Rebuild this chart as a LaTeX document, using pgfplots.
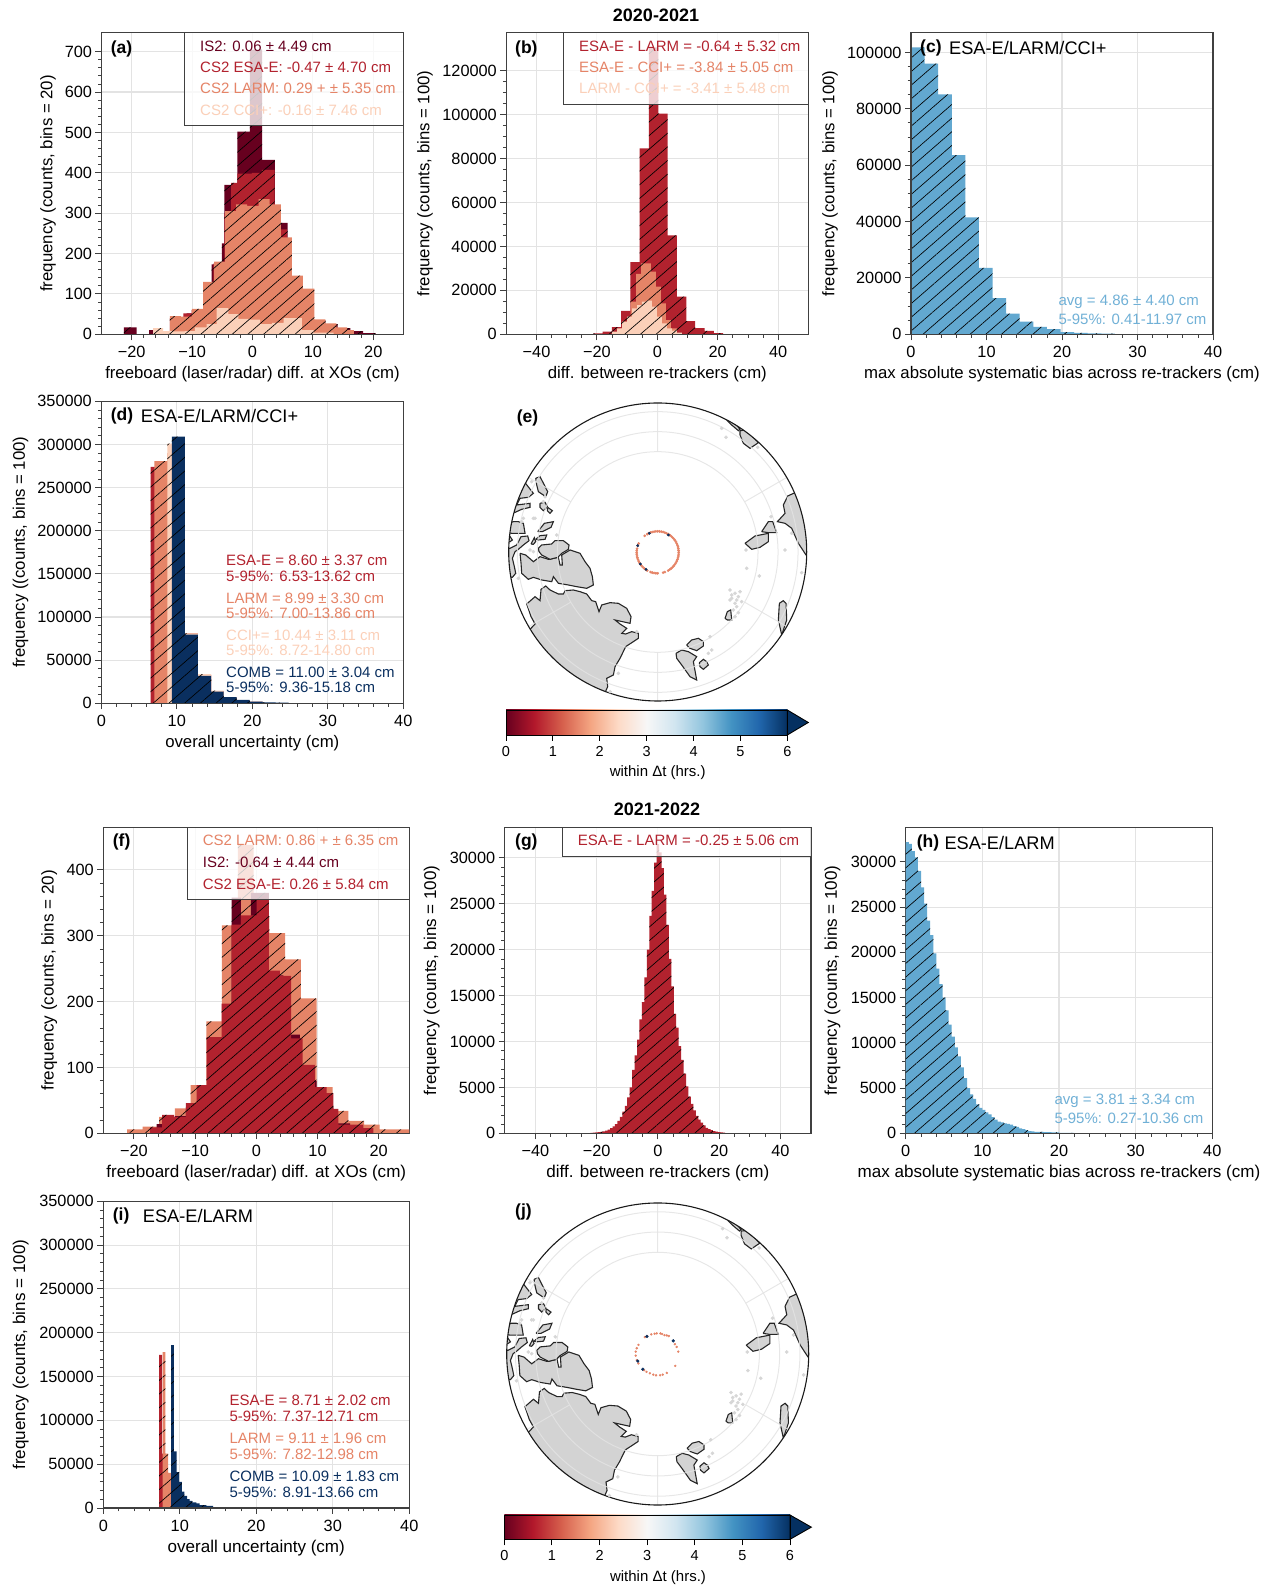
\documentclass[border=0pt]{standalone}
\usepackage{fontspec}
\setmainfont{Liberation Sans}
\usepackage{pgfplots}
\pgfplotsset{compat=1.18}
\usetikzlibrary{patterns.meta}
\definecolor{cIS}{HTML}{67001F}
\definecolor{cES}{HTML}{B2222E}
\definecolor{cLA}{HTML}{E58467}
\definecolor{cCC}{HTML}{FBD0B9}
\definecolor{cCO}{HTML}{0A2F5F}
\definecolor{cBL}{HTML}{62A8D0}
\definecolor{cTB}{HTML}{70B0D6}
\definecolor{frame}{HTML}{404040}
\definecolor{gridc}{HTML}{E3E3E3}
\definecolor{landc}{HTML}{D3D3D3}
\definecolor{dotc}{HTML}{D6D6D6}
\definecolor{r0}{HTML}{67001F}\definecolor{r1}{HTML}{B2182B}\definecolor{r2}{HTML}{D6604D}\definecolor{r3}{HTML}{F4A582}
\definecolor{r4}{HTML}{FDDBC7}\definecolor{r5}{HTML}{F7F7F7}\definecolor{r6}{HTML}{D1E5F0}\definecolor{r7}{HTML}{92C5DE}
\definecolor{r8}{HTML}{4393C3}\definecolor{r9}{HTML}{2166AC}\definecolor{r10}{HTML}{053061}
\pgfdeclarehorizontalshading{rdbu}{100bp}{color(0bp)=(r0);color(25bp)=(r0);color(30bp)=(r1);color(35bp)=(r2);color(40bp)=(r3);color(45bp)=(r4);color(50bp)=(r5);color(55bp)=(r6);color(60bp)=(r7);color(65bp)=(r8);color(70bp)=(r9);color(75bp)=(r10);color(100bp)=(r10)}
\newcommand{\fs}[1]{\fontsize{#1}{#1}\selectfont}
\newcommand{\hist}[2]{\addplot[const plot mark left,draw=none,fill=#1,postaction={pattern={Lines[angle=41,distance=10.3pt,line width=.65pt]},pattern color=black}] coordinates {#2} \closedcycle;}
\newcommand{\fr}{\draw[frame,line width=1.1pt] (rel axis cs:0,0) rectangle (rel axis cs:1,1);}
\pgfplotsset{
 pan/.style={scale only axis,axis on top=false,grid=major,
  grid style={gridc,line width=1.1pt},
  tick align=outside,xtick pos=bottom,ytick pos=left,
  major tick length=6pt,minor tick length=3.5pt,
  tick style={frame,line width=.9pt},
  minor tick style={frame,line width=.8pt},
  axis line style={frame,line width=1.1pt},
  tick label style={font=\fs{16.3}},
  xticklabel style={yshift=-2.5pt},
  label style={font=\fs{16.75}},
  scaled ticks=false,
  minor x tick num=4,minor y tick num=4,
  xlabel style={at={(axis description cs:0.5,-0.131)},anchor=center},
 },
 low/.style={label style={font=\fs{17.05}}},
 land/.style={draw=black!85,fill=landc,line width=1.1pt,mark=none,forget plot},
 mapax/.style={scale only axis,hide axis,clip=false,xmin=56,xmax=950,ymin=39,ymax=933,y dir=reverse},
 cbar/.style={scale only axis,clip=false,xmin=0,xmax=6,ymin=0,ymax=1,ytick=\empty,xtick={0,1,2,3,4,5,6},xticklabels={0,1,2,3,4,5,6},
  tick align=outside,xtick pos=bottom,major tick length=6pt,tick style={black,line width=.9pt},
  tick label style={font=\fs{14.5}},xticklabel style={yshift=-2pt},axis line style={black,line width=.9pt}},
}
\newcommand{\mapbase}{%
\addplot[land] coordinates {(345,908)(353,890)(350,865)(370,855)(375,830)(390,805)(407,770)(445,745)(445,730)(425,725)(407,732)(395,730)(410,715)(390,702)(375,690)(420,700)(423,680)(410,655)(385,640)(360,638)(335,645)(327,665)(317,635)(305,632)(290,612)(270,605)(250,600)(225,602)(220,612)(205,612)(180,600)(167,588)(153,598)(150,632)(135,620)(110,642)(123,680)(135,702)(120,718)(112,725)(165,795)(230,855)(290,895)(345,915)(345,908)};
\addplot[land] coordinates {(90,490)(107,495)(115,502)(130,515)(150,500)(175,508)(205,502)(210,525)(217,525)(215,495)(240,480)(270,490)(285,515)(300,535)(307,560)(310,585)(290,595)(260,590)(235,585)(205,580)(190,560)(185,575)(155,570)(130,562)(115,568)(95,550)(93,520)(90,490)};
\addplot[land] coordinates {(145,475)(155,465)(185,462)(195,452)(220,452)(237,465)(235,478)(215,490)(203,502)(180,508)(155,495)(147,485)(145,475)};
\addplot[land] coordinates {(60,475)(80,465)(93,440)(113,438)(117,452)(100,465)(85,478)(75,485)(67,505)(73,530)(77,550)(67,562)(50,560)(45,490)(50,475)(60,475)};
\addplot[land] coordinates {(57,435)(67,450)(60,455)(50,452)(50,435)(57,435)};
\addplot[land] coordinates {(70,395)(85,395)(100,400)(105,430)(65,430)(52,428)(55,400)(70,395)};
\addplot[land] coordinates {(105,278)(130,310)(115,322)(90,325)(80,345)(120,340)(120,352)(95,358)(73,368)(62,368)(80,320)(95,280)(105,278)};
\addplot[land] coordinates {(137,265)(150,260)(173,305)(167,320)(145,305)(140,285)(137,265)};
\addplot[land] coordinates {(150,340)(165,337)(172,350)(160,362)(150,352)(150,340)};
\addplot[land] coordinates {(173,352)(187,362)(180,370)(172,362)(173,352)};
\addplot[land] coordinates {(143,425)(163,400)(190,395)(183,412)(157,425)(143,425)};
\addplot[land] coordinates {(137,448)(150,437)(170,435)(165,448)(145,450)(137,448)};
\addplot[land] coordinates {(123,462)(133,443)(137,455)(130,463)(123,462)};
\addplot[land] coordinates {(720,90)(735,100)(750,118)(745,122)(725,105)(712,92)(720,90)};
\addplot[land] coordinates {(750,122)(770,120)(805,158)(780,175)(760,160)(750,135)(750,122)};
\addplot[land] coordinates {(915,308)(893,318)(880,345)(885,370)(862,395)(885,400)(905,415)(925,460)(948,495)(955,495)(950,420)(930,340)(915,308)};
\addplot[land] coordinates {(815,425)(835,395)(848,395)(860,428)(835,428)(815,425)};
\addplot[land] coordinates {(765,460)(795,438)(835,430)(835,455)(810,472)(785,478)(765,460)};
\addplot[land] coordinates {(868,640)(880,632)(888,640)(890,690)(875,735)(865,690)(868,640)};
\addplot[land] coordinates {(705,685)(712,665)(722,660)(725,690)(712,690)(705,685)};
\addplot[land] coordinates {(590,765)(605,750)(625,745)(640,755)(640,768)(620,782)(600,775)(590,765)};
\addplot[land] coordinates {(558,790)(575,780)(595,785)(620,800)(610,815)(620,870)(600,860)(575,825)(560,805)(558,790)};
\addplot[land] coordinates {(628,818)(640,808)(650,815)(655,825)(640,838)(630,830)(628,818)};
\addplot[only marks,mark=*,mark size=1.6pt,color=dotc,forget plot] coordinates {(720,600)(725,615)(720,630)(735,640)(750,605)(745,620)(740,650)(755,635)(730,660)(745,668)(735,680)(725,625)(735,610)(740,630)(695,115)(708,142)(803,172)(660,740)(665,780)(655,790)(768,480)(770,535)(808,558)(843,380)(885,480)(905,430)(935,548)(125,275)(165,320)(100,385)(130,385)(95,395)(135,385)(200,435)(120,480)(130,485)(160,335)(85,565)(360,905)(385,850)(440,725)};
\fill[white,even odd rule] (axis cs:503,486) circle [radius=447] (axis cs:503,486) circle [radius=470];
\draw[gridc,line width=1pt,opacity=.85] (axis cs:503,486) circle [radius=421] (axis cs:503,486) circle [radius=361] (axis cs:503,486) circle [radius=301];
\draw[gridc,line width=1pt,opacity=.85] (axis cs:763.7,335.5)--(axis cs:890,262.5) (axis cs:763.7,636.5)--(axis cs:890,709.5) (axis cs:242.3,335.5)--(axis cs:116,262.5) (axis cs:242.3,636.5)--(axis cs:116,709.5) (axis cs:503,185)--(axis cs:503,39) (axis cs:503,787)--(axis cs:503,933);
\draw[black!90,line width=1.1pt] (axis cs:503,486) circle [radius=447];
}
\newcommand{\cbarcontent}{%
\shade[shading=rdbu] (axis cs:0,0) rectangle (axis cs:6,1);
\addplot[draw=black,fill=r10,line width=.9pt,forget plot] coordinates {(6,0)(6.448,0.5)(6,1)(6,0)};
\draw[black,line width=.9pt] (axis cs:0,0) rectangle (axis cs:6,1);
}
\begin{document}
\begin{tikzpicture}
\begin{scope}[x=1pt,y=-1pt,shift={(0pt,1587pt)}]
\path[use as bounding box] (0,0) rectangle (1270,1587);
\end{scope}
% (a)
\begin{axis}[pan,at={(101.5pt,1252.7pt)},anchor=south west,width=302pt,height=301.6pt,
 xmin=-25,xmax=25,ymin=0,ymax=747,
 xtick={-20,-10,0,10,20},xticklabels={−20,−10,0,10,20},
 ytick={0,100,200,300,400,500,600,700},yticklabels={0,100,200,300,400,500,600,700},
 xlabel={freeboard (laser/radar) diff. at XOs (cm)},ylabel={frequency (counts, bins = 20)},
 ylabel style={at={(axis description cs:-0.177,0.5)},anchor=center}]
\hist{cIS}{(-21.3,17)(-19.2,0)(-17.1,10)(-15.05,5)(-12.95,25)(-10.9,52)(-8.8,60)(-6.75,173)(-5.09,225)(-4.65,370)(-2.5,502)(-0.44,705)(1.6,432)(3.7,276)(5.8,140)(7.85,110)(9.95,35)(12.05,25)(14.1,15)(16.2,8)(18.3,3)(20.4,0)}
\hist{cES}{(-13.68,40)(-11.46,52)(-10.08,60)(-8.14,125)(-6.48,175)(-4.65,300)(-3.54,375)(-2.49,398)(-0.11,400)(1.55,407)(3.65,260)(5.7,140)(7.92,110)(10.13,0)}
\hist{cLA}{(-13.68,45)(-11.85,44)(-10.02,63)(-8.19,130)(-6.37,180)(-4.54,305)(-2.71,322)(-0.89,318)(1,335)(2.82,322)(4.71,240)(6.53,145)(8.36,113)(10.24,37)(12.07,27)(13.9,17)(15.67,10)(16.78,0)}
\hist{cCC}{(-16.45,15)(-14.78,8)(-13.12,7)(-11.18,8)(-9.52,17)(-7.59,25)(-5.92,65)(-3.99,50)(-2.33,38)(-0.39,36)(1.27,25)(3.21,28)(5.15,40)(8.19,10)(10.13,4)(13.45,0)}
\fr
\end{axis}
% (b)
\begin{axis}[pan,at={(506.3pt,1252.7pt)},anchor=south west,width=302pt,height=301.6pt,
 xmin=-50,xmax=50,ymin=0,ymax=137300,minor x tick num=3,minor y tick num=3,
 xtick={-40,-20,0,20,40},xticklabels={−40,−20,0,20,40},
 ytick={0,20000,40000,60000,80000,100000,120000},yticklabels={0,20000,40000,60000,80000,100000,120000},
 xlabel={diff. between re-trackers (cm)},ylabel={frequency (counts, bins = 100)},
 ylabel style={at={(axis description cs:-0.269,0.5)},anchor=center}]
\hist{cES}{(-21.16,450)(-18.09,1200)(-15.03,3300)(-11.96,10600)(-8.9,32800)(-5.84,84600)(-2.78,130500)(0.33,100500)(3.42,45000)(6.5,17100)(9.59,6000)(12.56,2800)(15.65,1500)(18.73,500)(21.81,0)}
\hist{cLA}{(-12.23,2700)(-10.58,5800)(-8.82,14900)(-7.05,27500)(-5.4,32300)(-3.75,32300)(-2.09,28500)(-0.44,21700)(1.21,14100)(2.86,6500)(4.52,2700)(6.5,0)}
\hist{cCC}{(-14.99,1200)(-13.33,2700)(-11.68,5800)(-10.03,8000)(-8.37,11800)(-6.72,13300)(-5.07,14900)(-3.42,15300)(-1.76,12600)(-0.11,8000)(1.54,5000)(3.2,2700)(4.85,1700)(6.5,800)(8.15,0)}
\fr
\end{axis}
% (c)
\begin{axis}[pan,at={(911pt,1252.7pt)},anchor=south west,width=302pt,height=301.6pt,
 xmin=0,xmax=40,ymin=0,ymax=107000,minor y tick num=3,
 xtick={0,10,20,30,40},xticklabels={0,10,20,30,40},
 ytick={0,20000,40000,60000,80000,100000},yticklabels={0,20000,40000,60000,80000,100000},
 xlabel={max absolute systematic bias across re-trackers (cm)},ylabel={frequency (counts, bins = 100)},
 ylabel style={at={(axis description cs:-0.268,0.5)},anchor=center}]
\hist{cBL}{(0,101800)(1.8,96000)(3.6,85100)(5.4,63600)(7.2,41500)(9,23600)(10.8,12800)(12.6,7300)(14.4,4500)(16.2,2600)(18,1800)(19.8,800)(21.6,500)(23.4,350)(25.2,200)(27,0)}
\fr
\end{axis}
% (d)
\begin{axis}[pan,at={(101.3pt,883.7pt)},anchor=south west,width=302pt,height=302pt,
 xmin=0,xmax=40,ymin=0,ymax=350000,
 xtick={0,10,20,30,40},xticklabels={0,10,20,30,40},
 ytick={0,50000,100000,150000,200000,250000,300000,350000},yticklabels={0,50000,100000,150000,200000,250000,300000,350000},
 xlabel={overall uncertainty (cm)},ylabel={frequency ((counts, bins = 100)},
 ylabel style={at={(axis description cs:-0.267,0.5)},anchor=center}]
\hist{cES}{(6.53,274000)(8.26,280000)(9.98,290000)(11.08,81000)(12.8,33000)(14.53,14000)(16.2,6500)(17.93,3000)(19.65,1500)(21.37,0)}
\hist{cLA}{(7.02,280600)(8.74,290000)(11.08,81000)(12.8,33000)(14.53,14000)(16.2,6500)(17.93,3000)(19.65,1500)(21.37,0)}
\hist{cCC}{(8.74,301000)(11.08,81000)(12.8,33700)(14.53,14700)(16.2,7000)(17.93,3500)(19.65,1800)(21.37,0)}
\hist{cCO}{(9.36,309000)(11.08,79500)(12.8,31800)(14.53,13500)(16.2,7000)(17.93,3900)(19.65,2000)(21.37,1100)(23.1,700)(24.8,0)}
\fr
\end{axis}
% (e)
\begin{axis}[mapax,at={(508.7pt,886pt)},anchor=south west,width=298pt,height=298pt]
\mapbase
\addplot[only marks,mark=*,mark size=1.15pt,color=cLA,forget plot] coordinates {(566,487)(565.8,492.5)(565,497.9)(563.9,503.3)(562.2,508.5)(560.1,513.6)(557.6,518.5)(554.6,523.1)(551.3,527.5)(547.5,531.5)(543.5,535.3)(539.1,538.6)(534.5,541.6)(524.5,546.2)(519.3,547.9)(503,550)(497.5,549.8)(492.1,549)(486.7,547.9)(481.5,546.2)(471.5,541.6)(466.9,538.6)(462.7,535.3)(458.5,531.5)(454.7,527.5)(451.4,523.1)(448.4,518.5)(445.9,513.6)(443.8,508.5)(442.1,503.3)(441,497.9)(440.2,492.5)(440,487)(440.2,481.5)(441,476)(443,467)(446,460.4)(464,437.5)(471.5,432.4)(476.4,429.9)(481.5,427.8)(486.7,426.1)(492.1,425)(497.5,424.2)(503,424)(508.5,424.2)(513.9,425)(519.3,426.1)(524.5,427.8)(529.6,429.9)(534.5,432.4)(539.1,435.4)(543.5,438.7)(547.5,442.5)(551.3,446.5)(554.6,450.9)(557.6,455.5)(560.1,460.4)(562.2,465.5)(563.9,470.7)(565,476.1)(565.8,481.5)};
\addplot[only marks,mark=*,mark size=1.2pt,color=cCO,forget plot] coordinates {(478,430)(535,435)(443,467)(451,522)(468,538)};
\end{axis}
\begin{axis}[cbar,at={(506pt,852pt)},anchor=south west,width=281.3pt,height=25pt]
\cbarcontent
\end{axis}
% (f)
\begin{axis}[pan,low,at={(103.3pt,453.7pt)},anchor=south west,width=306pt,height=306pt,
 xmin=-25,xmax=25,ymin=0,ymax=464.8,
 xtick={-20,-10,0,10,20},xticklabels={−20,−10,0,10,20},
 ytick={0,100,200,300,400},yticklabels={0,100,200,300,400},
 xlabel={freeboard (laser/radar) diff. at XOs (cm)},ylabel={frequency (counts, bins = 20)},
 ylabel style={at={(axis description cs:-0.177,0.5)},anchor=center}]
\hist{cLA}{(-21.09,6)(-18.58,10)(-15.86,25)(-13.3,38)(-10.74,73)(-8.17,170)(-5.61,316)(-3,438)(-0.44,330)(2.13,304)(4.69,264)(7.3,205)(9.86,70)(12.48,34)(15.04,19)(17.6,13)(20.16,6)(22.72,6)(25.29,0)}
\hist{cIS}{(-16.29,14)(-14.11,15)(-13.3,26)(-11.5,40)(-9.2,70)(-7.03,140)(-4.03,358)(-2.51,325)(-0.87,365)(2.07,240)(4.41,150)(7.14,80)(9.86,40)(12.59,15)(15.31,0)}
\hist{cES}{(-17.38,9)(-15.37,28)(-13.41,25)(-11.5,46)(-9.75,73)(-8.12,146)(-5.67,197)(-4.03,317)(-2.51,331)(0.05,354)(2.07,247)(3.87,239)(5.67,144)(7.57,104)(9.59,70)(11.5,61)(12.59,37)(13.41,13)(15.31,13)(17.49,8)(19.13,0)}
\fr
\end{axis}
% (g)
\begin{axis}[pan,low,at={(504.7pt,453.7pt)},anchor=south west,width=306.3pt,height=306pt,
 xmin=-50,xmax=50,ymin=0,ymax=33340,minor x tick num=3,
 xtick={-40,-20,0,20,40},xticklabels={−40,−20,0,20,40},
 ytick={0,5000,10000,15000,20000,25000,30000},yticklabels={0,5000,10000,15000,20000,25000,30000},
 xlabel={diff. between re-trackers (cm)},ylabel={frequency (counts, bins = 100)},
 ylabel style={at={(axis description cs:-0.238,0.5)},anchor=center}]
\hist{cES}{(-22,40)(-21.2,60)(-20.4,90)(-19.6,120)(-18.8,160)(-18,220)(-17.2,300)(-16.4,400)(-15.6,550)(-14.8,760)(-14,1000)(-13.2,1350)(-12.4,1800)(-11.6,2350)(-10.8,3000)(-10,3900)(-9.2,5000)(-8.4,6900)(-7.6,8500)(-6.8,10200)(-6,12400)(-5.2,14300)(-4.4,17000)(-3.6,20000)(-2.8,23700)(-2,26400)(-1.2,29500)(-0.4,31500)(0.4,30600)(1.2,28900)(2,26000)(2.8,22700)(3.6,19000)(4.4,16000)(5.2,13000)(6,11500)(6.8,9500)(7.6,8000)(8.4,6500)(9.2,5100)(10,4000)(10.8,3200)(11.6,2500)(12.4,1900)(13.2,1500)(14,1150)(14.8,850)(15.6,600)(16.4,450)(17.2,350)(18,240)(18.8,170)(19.6,120)(20.4,90)(21.2,60)(22,30)(22.8,0)}
\fr
\end{axis}
% (h)
\begin{axis}[pan,low,at={(905.7pt,453.7pt)},anchor=south west,width=306.6pt,height=306pt,
 xmin=0,xmax=40,ymin=0,ymax=33830,
 xtick={0,10,20,30,40},xticklabels={0,10,20,30,40},
 ytick={0,5000,10000,15000,20000,25000,30000},yticklabels={0,5000,10000,15000,20000,25000,30000},
 xlabel={max absolute systematic bias across re-trackers (cm)},ylabel={frequency (counts, bins = 100)},
 ylabel style={at={(axis description cs:-0.239,0.5)},anchor=center}]
\hist{cBL}{(0,32200)(0.4,32000)(0.8,31200)(1.2,30500)(1.6,29000)(2,27200)(2.4,25400)(2.8,23500)(3.2,21900)(3.6,19900)(4,18200)(4.4,16500)(4.8,15000)(5.2,13600)(5.6,12000)(6,10700)(6.4,9500)(6.8,8500)(7.2,7300)(7.6,6100)(8,5000)(8.4,4300)(8.8,3800)(9.2,3200)(9.6,2800)(10,2600)(10.4,2300)(10.8,2100)(11.2,1800)(11.6,1500)(12,1300)(12.4,1200)(12.8,1100)(13.2,1050)(13.6,950)(14,800)(14.4,700)(14.8,550)(15.2,450)(15.6,350)(16,250)(16.4,200)(16.8,170)(17.2,150)(18,120)(19,90)(20,60)(21,40)(22,20)(22.5,0)}
\fr
\end{axis}
% (i)
\begin{axis}[pan,low,at={(103.3pt,79pt)},anchor=south west,width=306pt,height=306.7pt,
 xmin=0,xmax=40,ymin=0,ymax=350000,
 xtick={0,10,20,30,40},xticklabels={0,10,20,30,40},
 ytick={0,50000,100000,150000,200000,250000,300000,350000},yticklabels={0,50000,100000,150000,200000,250000,300000,350000},
 xlabel={overall uncertainty (cm)},ylabel={frequency (counts, bins = 100)},
 ylabel style={at={(axis description cs:-0.27,0.5)},anchor=center}]
\hist{cES}{(7.3,174700)(7.7,62000)(8.1,40000)(8.5,28000)(8.9,0)}
\hist{cLA}{(7.74,178000)(8.13,62000)(8.48,40000)(8.87,28000)(9.22,0)}
\hist{cCO}{(8.87,186000)(9.22,64500)(9.57,41000)(9.91,29700)(10.26,18700)(10.6,13700)(10.96,10000)(11.3,8000)(11.65,6500)(12.17,5300)(12.6,3400)(13.48,2300)(14.35,1100)(16.09,400)(17.83,0)}
\fr
\end{axis}
% (j)
\begin{axis}[mapax,at={(506.7pt,82pt)},anchor=south west,width=302pt,height=302pt]
\mapbase
\addplot[only marks,mark=*,mark size=1pt,color=cLA,forget plot] coordinates {(465,436)(472,433)(484,428)(494,426)(500,425)(511,425)(516,427)(523,430)(530,431)(536,433)(554,457)(559,465)(564,479)(555,521)(530,542)(518,547)(510,549)(498,549)(490,547)(480,543)(470,539)(463,534)(446,514)(441,504)(438,491)(438,479)(441,469)(446,459)};
\addplot[only marks,mark=*,mark size=1.4pt,color=cCO,forget plot] coordinates {(549,447)(444,507)(459,531)(471,434)};
\end{axis}
\begin{axis}[cbar,at={(504.3pt,47.7pt)},anchor=south west,width=285.7pt,height=24.3pt]
\cbarcontent
\end{axis}
% overlays
\begin{scope}[x=1pt,y=-1pt,shift={(0pt,1587pt)}]
\tikzset{bx/.style={draw=frame,line width=1pt,fill=white,fill opacity=.78},
 an/.style={anchor=west,inner sep=0pt,font=\fs{15}},
 pl/.style={anchor=west,inner sep=0pt,font=\fs{17.5}\bfseries},
 pt/.style={anchor=west,inner sep=0pt,font=\fs{18.2}},
 ti/.style={inner sep=0pt,font=\fs{18}\bfseries}}
\node[ti] at (656,15) {2020-2021};
\node[ti] at (657,809) {2021-2022};
% a
\draw[bx] (184.3,32.7) rectangle (403.5,125.3);
\node[pl] at (110.7,49) {(a)};
\node[an,text=cIS] at (200,46) {IS2: 0.06 ± 4.49 cm};
\node[an,text=cES] at (200,67.3) {CS2 ESA-E: -0.47 ± 4.70 cm};
\node[an,text=cLA] at (200,88.7) {CS2 LARM: 0.29 + ± 5.35 cm};
\node[an,text=cCC] at (200,110) {CS2 CCI+: -0.16 ± 7.46 cm};
% b
\draw[bx] (563.3,32.7) rectangle (808.3,104.3);
\node[pl] at (515,49) {(b)};
\node[an,text=cES] at (579,46) {ESA-E - LARM = -0.64 ± 5.32 cm};
\node[an,text=cLA] at (579,67.3) {ESA-E - CCI+ = -3.84 ± 5.05 cm};
\node[an,text=cCC] at (579,88.7) {LARM - CCI+ = -3.41 ± 5.48 cm};
% c
\node[pl] at (920,48) {(c)};
\node[pt] at (949,48) {ESA-E/LARM/CCI+};
\node[an,text=cTB] at (1058.3,302.3) {avg = 4.86 ± 4.40 cm};
\node[an,text=cTB] at (1058.3,319.3) {5-95\%: 0.41-11.97 cm};
% d
\node[pl] at (110.7,416) {(d)};
\node[pt] at (140.7,416) {ESA-E/LARM/CCI+};
\node[an,text=cES] at (226,560.7) {ESA-E = 8.60 ± 3.37 cm};
\node[an,text=cES] at (226,576.7) {5-95\%: 6.53-13.62 cm};
\node[an,text=cLA] at (226,598) {LARM = 8.99 ± 3.30 cm};
\node[an,text=cLA] at (226,613.3) {5-95\%: 7.00-13.86 cm};
\node[an,text=cCC] at (226,635) {CCI+= 10.44 ± 3.11 cm};
\node[an,text=cCC] at (226,650.7) {5-95\%: 8.72-14.80 cm};
\node[an,text=cCO] at (226,672.3) {COMB = 11.00 ± 3.04 cm};
\node[an,text=cCO] at (226,687.7) {5-95\%: 9.36-15.18 cm};
% e
\node[pl] at (516.7,418.3) {(e)};
\node[inner sep=0pt,font=\fs{15}] at (657.7,772.7) {within Δt (hrs.)};
% f
\draw[bx] (187.3,827.3) rectangle (409.3,899.3);
\node[pl] at (112.7,841.7) {(f)};
\node[an,text=cLA] at (202.7,840.7) {CS2 LARM: 0.86 + ± 6.35 cm};
\node[an,text=cIS] at (202.7,862.3) {IS2: -0.64 ± 4.44 cm};
\node[an,text=cES] at (202.7,884) {CS2 ESA-E: 0.26 ± 5.84 cm};
% g
\draw[bx] (562.3,827.3) rectangle (811,856.3);
\node[pl] at (515,842) {(g)};
\node[an,text=cES] at (577.7,840.7) {ESA-E - LARM = -0.25 ± 5.06 cm};
% h
\node[pl] at (916.7,842.7) {(h)};
\node[pt] at (944.3,842.7) {ESA-E/LARM};
\node[an,text=cTB] at (1054.3,1101) {avg = 3.81 ± 3.34 cm};
\node[an,text=cTB] at (1054.3,1118) {5-95\%: 0.27-10.36 cm};
% i
\node[pl] at (112.7,1216) {(i)};
\node[pt] at (142.7,1216) {ESA-E/LARM};
\node[an,text=cES] at (229.3,1400.7) {ESA-E = 8.71 ± 2.02 cm};
\node[an,text=cES] at (229.3,1416.7) {5-95\%: 7.37-12.71 cm};
\node[an,text=cLA] at (229.3,1438.3) {LARM = 9.11 ± 1.96 cm};
\node[an,text=cLA] at (229.3,1454.3) {5-95\%: 7.82-12.98 cm};
\node[an,text=cCO] at (229.3,1476) {COMB = 10.09 ± 1.83 cm};
\node[an,text=cCO] at (229.3,1492.3) {5-95\%: 8.91-13.66 cm};
% j
\node[pl] at (515,1211.7) {(j)};
\node[inner sep=0pt,font=\fs{15}] at (658,1577.7) {within Δt (hrs.)};
\end{scope}
\end{tikzpicture}
\end{document}
